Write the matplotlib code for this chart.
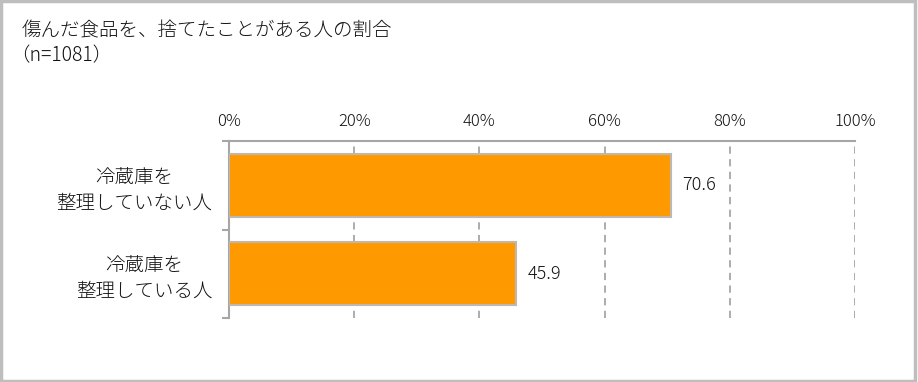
import matplotlib.pyplot as plt
from matplotlib.patches import Rectangle

plt.rcParams['font.family'] = ['Noto Sans CJK JP', 'DejaVu Sans']
plt.rcParams['font.weight'] = 'light'

title = "傷んだ食品を、捨てたことがある人の割合"
subtitle = "（n=1081）"
categories = ["冷蔵庫を\n整理していない人", "冷蔵庫を\n整理している人"]
values = [70.6, 45.9]
xticks = [0, 20, 40, 60, 80, 100]
xticklabels = ["0%", "20%", "40%", "60%", "80%", "100%"]

fig = plt.figure(figsize=(9.18, 3.82), dpi=100)
ax = fig.add_axes([0.2495, 0.1675, 0.6819, 0.4634])

ypos = list(range(len(categories)))
ax.barh(ypos, values, height=0.71, color="#FF9900", edgecolor="#BFB8B0", linewidth=1.5, zorder=3)

for y, v in zip(ypos, values):
    ax.annotate(f"{v:.1f}", xy=(v, y), xytext=(8, 0), textcoords="offset points",
                va="center", ha="left", fontsize=13, color="#111111")

ax.set_xlim(0, 100)
ax.set_ylim(len(categories) - 0.5, -0.5)
ax.xaxis.tick_top()
ax.set_xticks(xticks)
ax.set_xticklabels(xticklabels, fontsize=12, color="#111111")
ax.tick_params(axis="x", length=0, pad=8)

ax.set_yticks(ypos)
ax.set_yticklabels(categories, fontsize=14, color="#111111", multialignment="center",
                   linespacing=1.3)
ax.tick_params(axis="y", which="major", length=0, pad=12)
ax.set_yticks([-0.5, 0.5, 1.5], minor=True)
ax.tick_params(axis="y", which="minor", length=5, width=1.5, color="#A6A6A6", direction="out")

ax.grid(axis="x", color="#A6A6A6", linestyle=(0, (4, 3)), linewidth=1.3, zorder=0)
for s in ["right", "bottom"]:
    ax.spines[s].set_visible(False)
for s in ["top", "left"]:
    ax.spines[s].set_color("#A6A6A6")
    ax.spines[s].set_linewidth(1.5)

fig.text(22 / 918, 1 - 31 / 382, title, fontsize=14, va="center", ha="left", color="#111111")
fig.text(10 / 918, 1 - 56 / 382, subtitle, fontsize=14, va="center", ha="left", color="#111111")

fig.patches.append(Rectangle((0.001, 0.002), 0.996, 0.995, transform=fig.transFigure,
                             fill=False, edgecolor="#BEBEBE", linewidth=2.5))

fig.savefig("out.png", dpi=100)
